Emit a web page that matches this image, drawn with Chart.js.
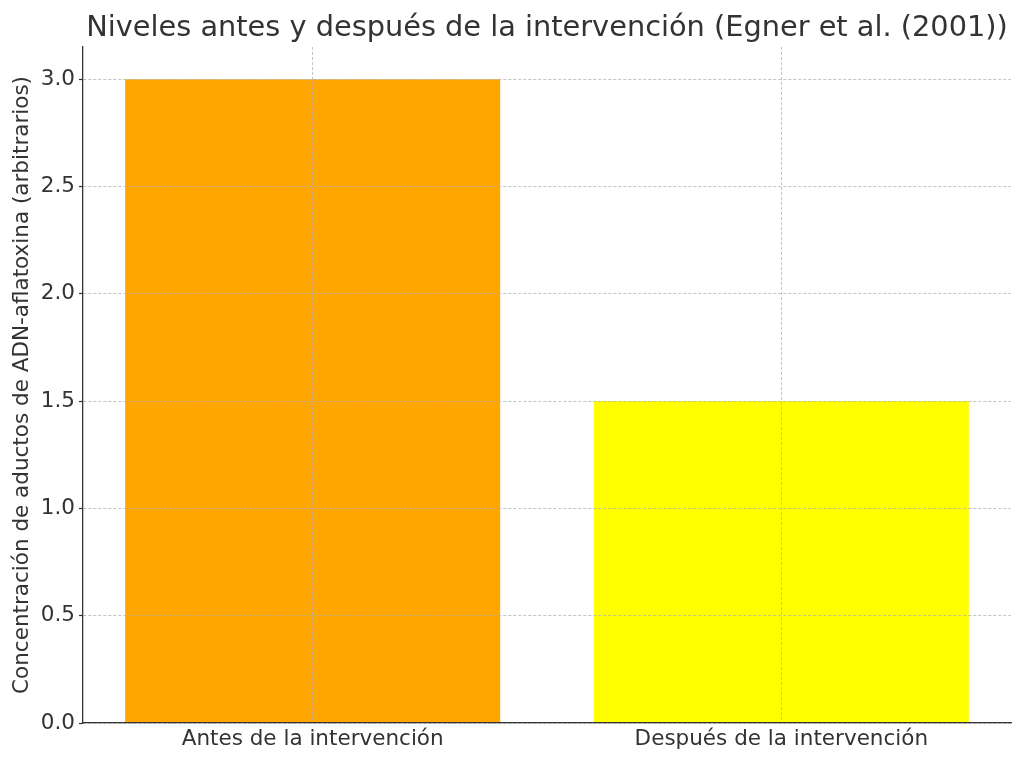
<!DOCTYPE html>
<html>
<head>
<meta charset="utf-8">
<script src="https://cdn.jsdelivr.net/npm/chart.js@4/dist/chart.umd.min.js"></script>
<style>
  html, body { margin: 0; padding: 0; background: #fff; }
  #wrap { width: 1024px; height: 765px; }
</style>
</head>
<body>
<div id="wrap"><canvas id="chart"></canvas></div>
<script>
const categories = ['Antes de la intervención', 'Después de la intervención'];
const values = [3.0, 1.5];
const barColors = ['#FFA500', '#FFFF00'];
const yTicks = [0, 0.5, 1.0, 1.5, 2.0, 2.5, 3.0];

const FONT = 'DejaVu Sans';
const TEXT = '#333333';
const GRID = 'rgba(176,176,176,0.75)';

Chart.defaults.font.family = FONT;
Chart.defaults.color = TEXT;

new Chart(document.getElementById('chart'), {
  type: 'bar',
  data: {
    datasets: [{
      data: values.map((v, i) => ({ x: i, y: v })),
      backgroundColor: barColors,
      borderWidth: 0,
      categoryPercentage: 1,
      barPercentage: 0.8
    }]
  },
  options: {
    responsive: true,
    maintainAspectRatio: false,
    animation: false,
    layout: { padding: { left: 0, right: 13, top: 0, bottom: 0 } },
    plugins: {
      legend: { display: false },
      tooltip: { enabled: false },
      title: {
        display: true,
        fullSize: false,
        text: 'Niveles antes y después de la intervención (Egner et al. (2001))',
        font: { size: 28.8, weight: 'normal' },
        color: TEXT,
        padding: { top: 11.7, bottom: 0.7 }
      }
    },
    scales: {
      x: {
        type: 'linear',
        offset: false,
        min: -0.49,
        max: 1.49,
        afterBuildTicks: s => { s.ticks = categories.map((c, i) => ({ value: i })); },
        afterFit: s => { s.height = 42; },
        ticks: {
          callback: v => categories[v],
          autoSkip: false,
          maxRotation: 0,
          padding: 4,
          font: { size: 21.5 },
          color: TEXT
        },
        grid: { offset: false, z: 1, color: GRID, lineWidth: 1, drawTicks: false },
        border: { z: 2, color: '#333', width: 1.3, dash: [3, 2] }
      },
      y: {
        min: 0,
        max: 3.15,
        afterBuildTicks: s => { s.ticks = yTicks.map(v => ({ value: v })); },
        afterFit: s => { s.width = 83; },
        ticks: {
          callback: v => v.toFixed(1),
          padding: 4,
          font: { size: 21.5 },
          color: TEXT
        },
        grid: { z: 1, color: GRID, lineWidth: 1, tickLength: 4, tickColor: '#333', tickWidth: 1.2 },
        border: { z: 2, color: '#333', width: 1.3, dash: [3, 2] },
        title: {
          display: true,
          text: 'Concentración de aductos de ADN-aflatoxina (arbitrarios)',
          font: { size: 21.5 },
          color: TEXT,
          padding: { top: 9.5, bottom: 0 }
        }
      }
    }
  }
});
</script>
</body>
</html>
